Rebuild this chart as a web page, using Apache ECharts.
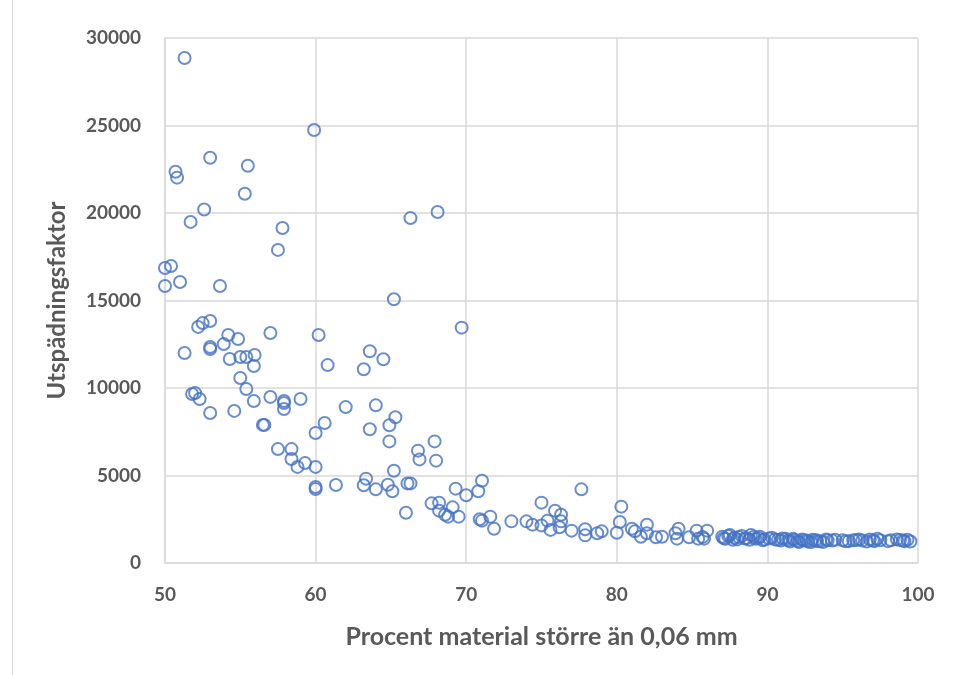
<!DOCTYPE html>
<html><head><meta charset="utf-8">
<script src="https://cdn.jsdelivr.net/npm/echarts@6/dist/echarts.min.js"></script>
<style>html,body{margin:0;padding:0;background:#fff}#c{width:953px;height:675px}</style>
</head><body><div id="c"></div>
<script>
const xTitle = "Procent material större än 0,06 mm";
const yTitle = "Utspädningsfaktor";
const xValues = [51.3,59.9,53.0,55.5,50.7,50.8,55.3,52.6,51.7,66.3,68.1,57.8,57.5,50.0,50.4,50.0,51.0,53.65,52.2,52.5,53.0,51.3,53.0,53.0,53.9,54.2,54.85,54.3,55.0,55.4,55.95,55.9,55.0,57.0,60.2,60.8,51.8,52.0,52.3,53.0,54.6,55.4,55.9,57.0,57.9,57.9,57.9,59.0,56.5,56.6,57.5,58.4,58.4,58.8,59.3,60.0,60.0,60.6,62.0,60.0,60.0,61.35,65.2,69.7,63.6,64.5,63.2,64.0,65.3,64.9,63.6,64.9,67.9,66.8,66.9,68.0,65.2,63.35,63.2,64.0,64.8,65.1,66.1,66.3,66.0,67.7,68.2,68.2,68.6,69.1,68.8,69.5,69.3,70.0,70.8,71.05,71.05,70.9,71.6,71.85,73.0,74.0,74.4,75.0,77.65,75.9,76.3,75.0,75.4,75.6,76.2,76.3,77.0,77.9,77.9,78.7,79.0,80.0,80.2,80.3,81.0,81.2,81.6,82.0,82.0,82.6,83.0,83.9,84.1,84.0,84.8,85.3,85.4,86.0,85.8,85.7,
87.0,87.2,87.5,87.8,88.0,88.3,88.6,88.9,89.2,89.5,89.8,90.3,90.7,91.0,91.4,91.7,92.0,92.3,92.6,92.9,93.2,93.5,93.9,94.3,95.0,95.4,95.9,96.3,96.8,97.1,97.5,98.2,98.8,99.1,99.5,
87.1,87.4,87.7,88.1,88.5,88.8,89.1,89.4,89.7,90.1,90.5,90.9,91.2,91.5,91.8,92.1,92.4,92.7,93.0,93.3,93.7,94.0,94.5,95.2,95.7,96.1,96.6,97.0,97.3,98.0,98.6,99.0,99.3];
const yValues = [28860,24740,23160,22700,22360,22020,21100,20200,19490,19710,20060,19140,17890,16860,16970,15830,16060,15830,13490,13710,13830,12000,12340,12230,12510,13030,12800,11660,11770,11770,11890,11260,10570,13140,13030,11310,9660,9710,9370,8570,8690,9940,9260,9490,9260,9140,8800,9370,7890,7890,6510,6510,5940,5490,5710,5490,7430,8000,8910,4340,4230,4460,15070,13450,12100,11640,11070,9010,8330,7870,7640,6950,6950,6420,5920,5850,5270,4820,4440,4210,4470,4100,4550,4550,2870,3410,3450,2990,2760,3180,2650,2650,4250,3870,4100,4700,2420,2500,2650,1960,2380,2380,2190,3450,4210,2990,2760,2150,2420,1890,2040,2380,1850,1930,1580,1700,1810,1730,2340,3220,1960,1810,1500,2190,1700,1470,1500,1700,1960,1390,1470,1850,1390,1850,1390,1490,
1500,1380,1600,1450,1350,1550,1420,1600,1380,1500,1350,1450,1320,1400,1300,1380,1250,1350,1280,1200,1320,1250,1350,1280,1300,1250,1320,1280,1350,1250,1300,1300,1320,1250,1230,
1420,1550,1330,1480,1400,1330,1500,1430,1300,1400,1350,1280,1380,1230,1320,1200,1300,1220,1330,1250,1200,1300,1330,1240,1300,1350,1230,1300,1380,1250,1350,1280,1330];
const xTicks = [50,60,70,80,90,100];
const yTicks = [0,5000,10000,15000,20000,25000,30000];

const pts = xValues.map((x,i)=>[x,yValues[i]]);
const font = "Lato,'Open Sans',sans-serif";
const chart = echarts.init(document.getElementById('c'));
chart.setOption({
  animation:false,
  backgroundColor:'#fff',
  grid:{left:165,right:35,top:38,bottom:112},
  graphic:[{type:'line',shape:{x1:12.5,y1:0,x2:12.5,y2:675},style:{stroke:'#d9d9d9',lineWidth:1}}],
  xAxis:{type:'value',min:xTicks[0],max:xTicks[xTicks.length-1],interval:10,
    name:xTitle,nameLocation:'middle',nameGap:61,
    nameTextStyle:{color:'#595959',fontSize:25,fontWeight:'bold',fontFamily:font},
    axisLine:{show:true,lineStyle:{color:'#d9d9d9',width:1.5}},axisTick:{show:false},
    axisLabel:{color:'#595959',fontSize:19,fontWeight:'bold',fontFamily:font,margin:22},
    splitLine:{show:true,lineStyle:{color:'#d9d9d9',width:1.5}}},
  yAxis:{type:'value',min:yTicks[0],max:yTicks[yTicks.length-1],interval:5000,
    name:yTitle,nameLocation:'middle',nameGap:96,nameRotate:90,
    nameTextStyle:{color:'#595959',fontSize:24,fontWeight:'bold',fontFamily:font},
    axisLine:{show:true,lineStyle:{color:'#d9d9d9',width:1.5}},axisTick:{show:false},
    axisLabel:{color:'#595959',fontSize:19,fontWeight:'bold',fontFamily:font,margin:24,formatter:v=>String(v)},
    splitLine:{show:true,lineStyle:{color:'#d9d9d9',width:1.5}}},
  series:[{type:'scatter',data:pts,symbol:'circle',symbolSize:12,
    itemStyle:{color:'rgba(255,255,255,0)',borderColor:'#4472C4',borderWidth:2}}]
});
</script></body></html>
